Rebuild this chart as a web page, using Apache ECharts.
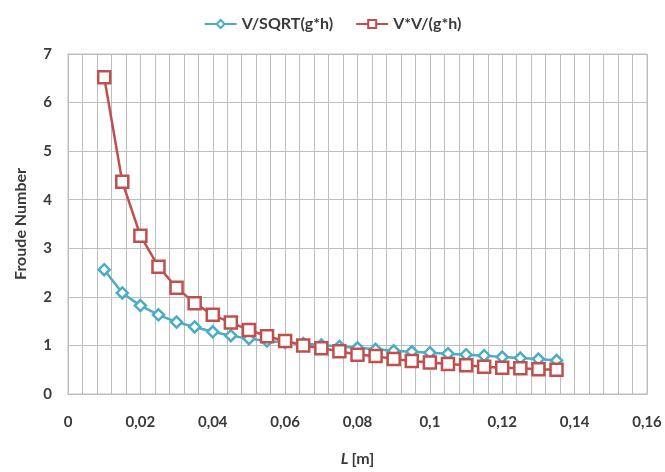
<!DOCTYPE html>
<html>
<head>
<meta charset="utf-8">
<script src="https://cdn.jsdelivr.net/npm/echarts@6/dist/echarts.min.js"></script>
<style>html,body{margin:0;padding:0;background:#fff}#c{width:665px;height:472px}</style>
</head>
<body>
<div id="c"></div>
<script>
const lengths = [0.01,0.015,0.02,0.025,0.03,0.035,0.04,0.045,0.05,0.055,0.06,0.065,0.07,0.075,0.08,0.085,0.09,0.095,0.1,0.105,0.11,0.115,0.12,0.125,0.13,0.135];
const froudeSqrt = [2.56,2.08,1.82,1.63,1.48,1.38,1.28,1.20,1.14,1.09,1.06,1.04,1.01,0.98,0.95,0.92,0.89,0.87,0.85,0.83,0.81,0.79,0.76,0.74,0.72,0.69];
const froudeSq = [6.52,4.37,3.26,2.62,2.19,1.87,1.63,1.47,1.32,1.19,1.09,1.00,0.94,0.88,0.81,0.78,0.72,0.68,0.65,0.62,0.59,0.56,0.54,0.53,0.51,0.50];
const seriesNames = ['V/SQRT(g*h)','V*V/(g*h)'];
const xName = 'L [m]';
const yName = 'Froude Number';

const FONT = 'Lato';
const TXT = '#3a3a3a';
const GRID = '#bdbdbd';
const chart = echarts.init(document.getElementById('c'), null, {renderer:'canvas'});
chart.setOption({
  animation:false,
  textStyle:{fontFamily:FONT},
  legend:{
    top:11, left:'center', itemWidth:32, itemHeight:10, itemGap:22,
    textStyle:{fontFamily:FONT, fontWeight:'bold', fontSize:16, color:TXT}
  },
  grid:{left:68, right:18, top:54, bottom:74, show:true, borderColor:GRID, borderWidth:1},
  xAxis:{
    type:'value', min:0, max:0.16, interval:0.02,
    name:'{i|L} {n|[m]}', nameLocation:'middle', nameGap:57,
    nameTextStyle:{rich:{
      i:{fontFamily:FONT, fontWeight:'bold', fontStyle:'italic', fontSize:16, color:TXT},
      n:{fontFamily:FONT, fontWeight:'bold', fontSize:16, color:TXT}}},
    axisLine:{show:true, lineStyle:{color:GRID}},
    axisTick:{show:false},
    axisLabel:{margin:21, fontFamily:FONT, fontWeight:'bold', fontSize:15, color:TXT,
      formatter:v=>String(Math.round(v*1000)/1000).replace('.',',')},
    splitLine:{show:true, lineStyle:{color:GRID, width:1}},
    minorTick:{show:false, splitNumber:5},
    minorSplitLine:{show:true, lineStyle:{color:GRID, width:1}}
  },
  yAxis:{
    type:'value', min:0, max:7, interval:1,
    name:yName, nameLocation:'middle', nameGap:39, nameRotate:90,
    nameTextStyle:{fontFamily:FONT, fontWeight:'bold', fontSize:16, color:TXT},
    axisLine:{show:true, lineStyle:{color:GRID}},
    axisTick:{show:false},
    axisLabel:{margin:16, fontFamily:FONT, fontWeight:'bold', fontSize:15, color:TXT},
    splitLine:{show:true, lineStyle:{color:GRID, width:1}}
  },
  series:[
    {name:seriesNames[0], type:'line', data:lengths.map((x,i)=>[x,froudeSqrt[i]]),
     symbol:'diamond', symbolSize:11, showAllSymbol:true,
     itemStyle:{color:'#fff', borderColor:'#4bacc6', borderWidth:2.5},
     lineStyle:{color:'#4bacc6', width:2.5}, z:2},
    {name:seriesNames[1], type:'line', data:lengths.map((x,i)=>[x,froudeSq[i]]),
     symbol:'rect', symbolSize:12, showAllSymbol:true,
     itemStyle:{color:'#fff', borderColor:'#c0504d', borderWidth:2.5},
     lineStyle:{color:'#c0504d', width:2.5}, z:3}
  ]
});
</script>
</body>
</html>
